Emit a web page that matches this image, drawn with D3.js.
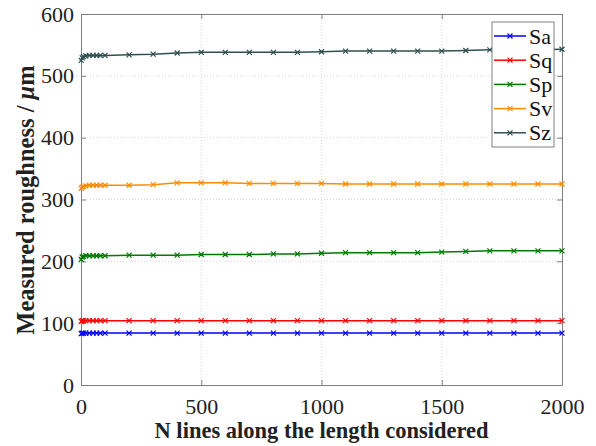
<!DOCTYPE html>
<html>
<head>
<meta charset="utf-8">
<script src="https://cdn.jsdelivr.net/npm/d3@7"></script>
<style>
  body { margin: 0; background: #fff; }
</style>
</head>
<body>
<div id="chart"></div>
<script>
// data
var nLines = [1, 5, 10, 20, 35, 50, 65, 80, 100, 200, 300, 400, 500, 600, 700, 800, 900,
  1000, 1100, 1200, 1300, 1400, 1500, 1600, 1700, 1800, 1900, 2000];
var sa = [83, 84, 84, 84, 84, 84, 84, 84, 84, 84, 84, 84, 84, 84, 84, 84, 84,
  84, 84, 84, 84, 84, 84, 84, 84, 84, 84, 84];
var sq = [103, 104, 104, 104, 104, 104, 104, 104, 104, 104, 104, 104, 104, 104, 104, 104, 104,
  104, 104, 104, 104, 104, 104, 104, 104, 104, 104, 104];
var sp = [203, 207, 208, 209, 209, 209, 209, 209, 209, 210, 210, 210, 211, 211, 211, 212, 212,
  213, 214, 214, 214, 214, 215, 216, 217, 217, 217, 217];
var sv = [318, 320, 321, 322, 323, 323, 323, 323, 323, 323, 324, 327, 327, 327, 326, 326, 326,
  326, 325, 325, 325, 325, 325, 325, 325, 325, 325, 325];
var sz = [525, 529, 531, 532, 533, 533, 533, 533, 533, 534, 535, 537, 538, 538, 538, 538, 538,
  539, 540, 540, 540, 540, 540, 541, 542, 542, 542, 543];
var seriesNames = ["Sa", "Sq", "Sp", "Sv", "Sz"];
var seriesColors = ["#0000ff", "#ff0000", "#007a00", "#ff8c00", "#2f4f4f"];
var xTicks = [0, 500, 1000, 1500, 2000];
var yTicks = [0, 100, 200, 300, 400, 500, 600];

var serif = "Liberation Serif";

var svgWidth = 596;
var svgHeight = 446;
var margin = { top: 14, right: 34, bottom: 61, left: 81 };
var width = svgWidth - margin.left - margin.right;
var height = svgHeight - margin.top - margin.bottom;

var svg = d3.select("#chart").append("svg")
  .attr("width", svgWidth)
  .attr("height", svgHeight);

var chart = svg.append("g").attr("transform", `translate(${margin.left}, ${margin.top})`);

var x = d3.scaleLinear().domain([0, 2000]).range([0, width]);
var y = d3.scaleLinear().domain([0, 600]).range([height, 0]);

// dotted grid
chart.append("g").selectAll("line").data(xTicks.slice(1, -1)).enter().append("line")
  .attr("x1", d => x(d)).attr("x2", d => x(d))
  .attr("y1", 0).attr("y2", height)
  .attr("stroke", "#d8d8d8").attr("stroke-dasharray", "1,2");
chart.append("g").selectAll("line").data(yTicks.slice(1, -1)).enter().append("line")
  .attr("x1", 0).attr("x2", width)
  .attr("y1", d => y(d)).attr("y2", d => y(d))
  .attr("stroke", "#d8d8d8").attr("stroke-dasharray", "1,2");

// axes (ticks inside, box all round)
function styleAxis(g) {
  g.attr("font-family", serif).attr("font-size", 22);
  g.select(".domain").attr("stroke", "#808080");
  g.selectAll(".tick line").attr("stroke", "#808080");
  g.selectAll(".tick text").attr("fill", "#222")
    .attr("font-family", serif).attr("font-size", 22);
}
chart.append("g").attr("transform", `translate(0, ${height})`)
  .call(d3.axisBottom(x).tickValues(xTicks).tickFormat(d3.format("d"))
    .tickSizeInner(-5).tickSizeOuter(0).tickPadding(13))
  .call(styleAxis);
chart.append("g")
  .call(d3.axisLeft(y).tickValues(yTicks).tickFormat(d3.format("d"))
    .tickSizeInner(-5).tickSizeOuter(0).tickPadding(7))
  .call(styleAxis);
chart.append("g")
  .call(d3.axisTop(x).tickValues(xTicks).tickSizeInner(-5).tickSizeOuter(0).tickFormat(""))
  .call(styleAxis);
chart.append("g").attr("transform", `translate(${width}, 0)`)
  .call(d3.axisRight(y).tickValues(yTicks).tickSizeInner(-5).tickSizeOuter(0).tickFormat(""))
  .call(styleAxis);

var allSeries = [sa, sq, sp, sv, sz];
var line = d3.line().x((d, i) => x(nLines[i])).y(d => y(d));

function crossPath(cx, cy, r) {
  return `M${cx - r},${cy - r}L${cx + r},${cy + r}M${cx - r},${cy + r}L${cx + r},${cy - r}`;
}

allSeries.forEach(function (vals, k) {
  chart.append("path")
    .datum(vals)
    .attr("fill", "none")
    .attr("stroke", seriesColors[k])
    .attr("stroke-width", 1.5)
    .attr("d", line);
  chart.append("g").selectAll("path").data(vals).enter().append("path")
    .attr("d", (d, i) => crossPath(x(nLines[i]), y(d), 2.5))
    .attr("stroke", seriesColors[k])
    .attr("stroke-width", 1.2)
    .attr("fill", "none");
});

// legend
var legend = svg.append("g").attr("transform", "translate(492, 22)");
legend.append("rect")
  .attr("width", 62).attr("height", 125)
  .attr("fill", "#fff").attr("stroke", "#808080");
seriesNames.forEach(function (name, k) {
  var ly = 14 + k * 24.2;
  legend.append("line")
    .attr("x1", 2).attr("x2", 34).attr("y1", ly).attr("y2", ly)
    .attr("stroke", seriesColors[k]).attr("stroke-width", 1.5);
  legend.append("path")
    .attr("d", crossPath(18, ly, 2.5))
    .attr("stroke", seriesColors[k]).attr("stroke-width", 1.2);
  legend.append("text")
    .attr("x", 37).attr("y", ly + 7.5)
    .attr("fill", "#111")
    .attr("font-family", serif)
    .attr("font-size", 22)
    .text(name);
});

// axis titles
svg.append("text")
  .attr("x", margin.left + width / 2)
  .attr("y", 438)
  .attr("text-anchor", "middle")
  .attr("font-family", serif)
  .attr("font-size", 22.5)
  .attr("font-weight", "bold")
  .attr("fill", "#222")
  .text("N lines along the length considered");

var yTitle = svg.append("text")
  .attr("transform", `translate(33.5, 200) rotate(-90)`)
  .attr("text-anchor", "middle")
  .attr("font-family", serif)
  .attr("font-size", 24.5)
  .attr("font-weight", "bold")
  .attr("fill", "#222");
yTitle.append("tspan").text("Measured roughness / ");
yTitle.append("tspan").attr("font-style", "italic").text("μ");
yTitle.append("tspan").text("m");
</script>
</body>
</html>
